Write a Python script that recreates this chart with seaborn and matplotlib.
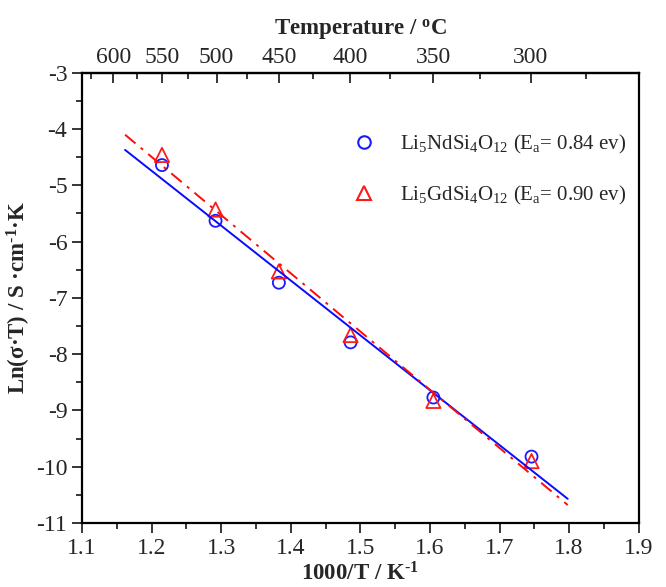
import numpy as np
import pandas as pd
import matplotlib
matplotlib.use('Agg')
import matplotlib.pyplot as plt
from matplotlib.lines import Line2D
import seaborn as sns

# data
inv_T = [1.215, 1.292, 1.383, 1.486, 1.605, 1.746]
ln_nd = [-4.64, -5.63, -6.73, -7.79, -8.77, -9.82]
ln_gd = [-4.46, -5.43, -6.53, -7.66, -8.83, -9.90]

# linear fit end points
fit_x = [1.162, 1.798]
fit_nd = [-4.37, -10.57]
fit_gd = [-4.10, -10.68]

label_nd = r'Li$_5$NdSi$_4$O$_{12}$ (E$_\mathrm{a}$= 0.84 ev)'
label_gd = r'Li$_5$GdSi$_4$O$_{12}$ (E$_\mathrm{a}$= 0.90 ev)'

temp_major = [600, 550, 500, 450, 400, 350, 300]
temp_minor = [625, 575, 525, 475, 425, 375, 325, 275]

sns.set_style('ticks')
plt.rcParams['font.family'] = ['Liberation Serif', 'DejaVu Serif']
plt.rcParams['mathtext.fontset'] = 'custom'
plt.rcParams['mathtext.rm'] = 'Liberation Serif'
plt.rcParams['mathtext.it'] = 'Liberation Serif:italic'
plt.rcParams['mathtext.bf'] = 'Liberation Serif:bold'
plt.rcParams['axes.unicode_minus'] = False

fig = plt.figure(figsize=(6.66, 5.87), dpi=100)
ax = fig.add_axes([0.123, 0.109, 0.836, 0.767])

pts = pd.DataFrame({'x': inv_T * 2, 'y': ln_nd + ln_gd,
                    'sample': [label_nd] * 6 + [label_gd] * 6})
fits = pd.DataFrame({'x': fit_x * 2, 'y': fit_nd + fit_gd,
                     'sample': ['nd'] * 2 + ['gd'] * 2})

sns.lineplot(data=fits[fits['sample'] == 'nd'], x='x', y='y', color='#0a0aff',
             lw=1.4, ax=ax, legend=False)
sns.lineplot(data=fits[fits['sample'] == 'gd'], x='x', y='y', color='#ff0a0a',
             lw=1.4, ax=ax, legend=False, linestyle=(0, (7, 3.5, 1.5, 3.5)))
sns.scatterplot(data=pts, x='x', y='y', hue='sample', style='sample', size='sample',
                markers={label_nd: 'o', label_gd: '^'},
                palette={label_nd: '#1a1aff', label_gd: '#ff1a1a'},
                sizes={label_nd: 75, label_gd: 105}, ax=ax, legend=False)
# hollow markers
for coll in ax.collections:
    coll.set_edgecolors(coll.get_facecolors())
    coll.set_facecolors('none')
    coll.set_linewidths(1.3)

# legend
handles = [Line2D([], [], marker='o', ls='none', mfc='none', mec='#1a1aff', mew=1.5, ms=9),
           Line2D([], [], marker='^', ls='none', mfc='none', mec='#ff1a1a', mew=1.5, ms=10)]
ax.legend(handles, [label_nd, label_gd], frameon=False, loc='upper right',
          bbox_to_anchor=(1.0, 0.895), fontsize=15, labelspacing=1.35,
          handletextpad=0.7, borderaxespad=0.2)

ax.set_xlim(1.1, 1.9)
ax.set_ylim(-11, -3)
ax.set_xticks(np.arange(1.1, 1.91, 0.1))
ax.set_xticks(np.arange(1.15, 1.9, 0.1), minor=True)
ax.set_yticks(np.arange(-11, -2.9, 1))
ax.set_yticks(np.arange(-10.5, -3, 1), minor=True)
ax.set_xticklabels([f'{v:.1f}' for v in np.arange(1.1, 1.91, 0.1)])
ax.set_yticklabels([f'{int(v)}' for v in np.arange(-11, -2.9, 1)])
ax.tick_params(axis='both', which='major', direction='out', length=7, width=1.3,
               labelsize=17, top=False, right=False)
ax.tick_params(axis='both', which='minor', direction='out', length=4, width=1.3,
               top=False, right=False)
for sp in ax.spines.values():
    sp.set_visible(True)
    sp.set_linewidth(1.6)
    sp.set_color('black')

ax.set_xlabel('1000/T / K$^{\\mathbf{\u2010}\\mathbf{1}}$', fontsize=16.5,
              fontweight='bold', labelpad=3)
ax.set_ylabel('Ln(σ·T) / S ·cm$^{\\mathbf{\u2010}\\mathbf{1}}$·K', fontsize=16.5,
              fontweight='bold', labelpad=2)

# top axis in Celsius
top = ax.secondary_xaxis('top', functions=(lambda x: 1000.0 / np.maximum(x, 1e-6) - 273.15,
                                          lambda t: 1000.0 / (np.asarray(t) + 273.15)))
top.set_xticks(temp_major)
top.set_xticks(temp_minor, minor=True)
top.set_xticklabels([str(t) for t in temp_major])
top.tick_params(which='major', direction='in', length=7, width=1.3, labelsize=17)
top.tick_params(which='minor', direction='in', length=4, width=1.3)
top.spines['top'].set_linewidth(1.6)
top.set_xlabel(r'Temperature / $^{\mathbf{o}}$C', fontsize=16.5, fontweight='bold', labelpad=9)

fig.savefig('out.png', dpi=100, facecolor='white')
